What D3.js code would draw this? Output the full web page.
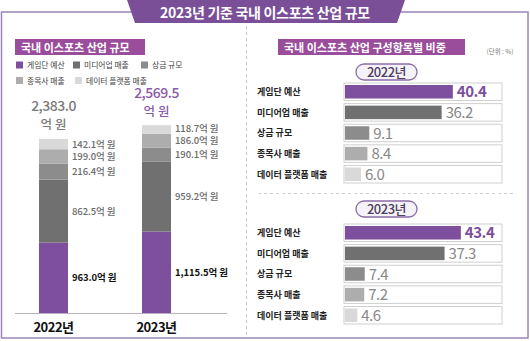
<!DOCTYPE html>
<html><head><meta charset="utf-8">
<script src="https://cdn.jsdelivr.net/npm/d3@7"></script>
<style>
html,body{margin:0;padding:0;background:#fff;}
svg{display:block;font-family:"Noto Sans CJK KR","Noto Sans",sans-serif;}
</style></head>
<body>
<svg id="c" width="530" height="341"></svg>
<script>
// ---- data ----
const title = "2023년 기준 국내 이스포츠 산업 규모";
const leftTitle = "국내 이스포츠 산업 규모";
const rightTitle = "국내 이스포츠 산업 구성항목별 비중";
const unitLabel = "(단위 : %)";
const years = ["2022년", "2023년"];
const categories = ["게임단 예산", "미디어업 매출", "상금 규모", "종목사 매출", "데이터 플랫폼 매출"];
const amount2022 = [963.0, 862.5, 216.4, 199.0, 142.1];
const amount2023 = [1115.5, 959.2, 190.1, 186.0, 118.7];
const totals = [2383.0, 2569.5];
const share2022 = [40.4, 36.2, 9.1, 8.4, 6.0];
const share2023 = [43.4, 37.3, 7.4, 7.2, 4.6];

const colors = ["#7d4f9c", "#707070", "#8c8c8c", "#adadad", "#d9d9d9"];
const purple = "#7d4f9c";

const svg = d3.select("#c");

// outer frame
svg.append("rect").attr("x", 1.5).attr("y", 12).attr("width", 526.5).attr("height", 326)
  .attr("fill", "none").attr("stroke", "#9c84b6").attr("stroke-width", 1.5);

// title banner
svg.append("path").attr("d", "M127,0 L405,0 L397,23 L135,23 Z").attr("fill", "#7a4f98");
svg.append("text").attr("x", 265).attr("y", 17.5).attr("text-anchor", "middle")
  .attr("fill", "#fff").attr("font-size", 14).attr("font-weight", 700).attr("letter-spacing", -0.3)
  .text(title);

// divider
svg.append("line").attr("x1", 246.5).attr("x2", 246.5).attr("y1", 26).attr("y2", 336)
  .attr("stroke", "#c8c8c8").attr("stroke-dasharray", "3,3");

// ---------------- left panel ----------------
svg.append("rect").attr("x", 15).attr("y", 39).attr("width", 130).attr("height", 16).attr("fill", "#9a4d9b");
svg.append("text").attr("x", 21).attr("y", 51.5).attr("fill", "#fff").attr("font-size", 11)
  .attr("font-weight", 700).text(leftTitle);

// legend
const legendPos = [[16, 65], [73, 65], [141, 65], [16, 80.5], [75, 80.5]];
const lg = svg.append("g").selectAll("g").data(categories).join("g")
  .attr("transform", (d, i) => `translate(${legendPos[i][0]},${legendPos[i][1]})`);
lg.append("rect").attr("x", 0).attr("y", -3.5).attr("width", 7).attr("height", 7).attr("fill", (d, i) => colors[i]);
lg.append("text").attr("x", 11).attr("y", 3).attr("font-size", 7.8).attr("fill", "#444").text(d => d);

// stacked bars
const yL = d3.scaleLinear().domain([0, 2600]).range([313, 123]);
const xL = d3.scalePoint().domain(years).range([53.5, 156.5]);
const barW = 29;
const amounts = [amount2022, amount2023];

years.forEach((yr, yi) => {
  const vals = amounts[yi];
  let cum = 0;
  const segs = vals.map((v, i) => { const s = { i, v, y0: cum, y1: cum + v }; cum += v; return s; });
  // label positions: segment midpoints, pushed apart from the top down
  const ly = segs.map(d => (yL(d.y0) + yL(d.y1)) / 2);
  for (let k = ly.length - 2; k >= 0; k--) {
    if (ly[k] - ly[k + 1] < 12.5) ly[k + 1] = ly[k] - 12.5;
  }
  const g = svg.append("g");
  g.selectAll("rect").data(segs).join("rect")
    .attr("x", xL(yr) - barW / 2).attr("width", barW)
    .attr("y", d => yL(d.y1)).attr("height", d => yL(d.y0) - yL(d.y1))
    .attr("fill", d => colors[d.i]);
  g.selectAll("text").data(segs).join("text")
    .attr("x", xL(yr) + barW / 2 + 4)
    .attr("y", d => ly[d.i] + 3.5)
    .attr("font-size", 9.5)
    .attr("font-weight", d => d.i === 0 ? 700 : 500)
    .attr("fill", d => d.i === 0 ? "#111" : "#6a6a6a")
    .attr("letter-spacing", -0.1)
    .text(d => d3.format(",.1f")(d.v) + "억 원");
  // total
  const tc = yi === 0 ? "#7a7a7a" : "#8a5aa8";
  const ty = yL(totals[yi]);
  svg.append("text").attr("x", xL(yr)).attr("y", ty - 27.5).attr("text-anchor", "middle")
    .attr("font-size", 14).attr("font-weight", 500).attr("fill", tc).attr("letter-spacing", -0.5)
    .text(d3.format(",.1f")(totals[yi]));
  svg.append("text").attr("x", xL(yr)).attr("y", ty - 9.5).attr("text-anchor", "middle")
    .attr("font-size", 12.5).attr("font-weight", 500).attr("fill", tc)
    .text("억 원");
  // year label
  svg.append("text").attr("x", xL(yr)).attr("y", 332).attr("text-anchor", "middle")
    .attr("font-size", 13).attr("font-weight", 700).attr("fill", "#111").attr("letter-spacing", -0.5)
    .text(yr);
});
svg.append("line").attr("x1", 15).attr("x2", 227).attr("y1", 313.5).attr("y2", 313.5)
  .attr("stroke", "#b9b0c4").attr("stroke-width", 1);

// ---------------- right panel ----------------
svg.append("rect").attr("x", 278).attr("y", 39).attr("width", 187).attr("height", 16).attr("fill", "#9a4d9b");
svg.append("text").attr("x", 284).attr("y", 51.5).attr("fill", "#fff").attr("font-size", 11)
  .attr("font-weight", 700).text(rightTitle);
svg.append("text").attr("x", 500).attr("y", 54).attr("text-anchor", "middle")
  .attr("font-size", 6.5).attr("fill", "#777").text(unitLabel);

svg.append("line").attr("x1", 258).attr("x2", 516).attr("y1", 193.5).attr("y2", 193.5)
  .attr("stroke", "#cfcfcf").attr("stroke-dasharray", "3,3");

const xR = d3.scaleLinear().domain([0, 59]).range([345, 502.5]);
const shares = [share2022, share2023];
const pillY = [72, 209];
const rowRange = [[83, 183], [224, 324]];

years.forEach((yr, yi) => {
  // pill
  svg.append("rect").attr("x", 356).attr("y", pillY[yi] - 8).attr("width", 61).attr("height", 16).attr("rx", 8)
    .attr("fill", "#f6f3f8").attr("stroke", "#8c6ca8").attr("stroke-width", 1.3);
  svg.append("text").attr("x", 386.5).attr("y", pillY[yi] + 4.8).attr("text-anchor", "middle")
    .attr("font-size", 13).attr("font-weight", 500).attr("fill", "#4e3f5e").attr("letter-spacing", -0.5)
    .text(yr);

  const yR = d3.scaleBand().domain(categories).range(rowRange[yi]).paddingInner(0.15);
  const rows = categories.map((c, i) => ({ c, i, v: shares[yi][i] }));
  const g = svg.append("g");
  const rg = g.selectAll("g").data(rows).join("g")
    .attr("transform", d => `translate(0,${yR(d.c)})`);
  const bh = yR.bandwidth();
  rg.append("rect").attr("x", 344).attr("y", 0).attr("width", 158).attr("height", bh)
    .attr("fill", "#fff").attr("stroke", "#cfcfcf").attr("stroke-width", 1);
  rg.append("rect").attr("x", xR(0)).attr("y", 2).attr("width", d => xR(d.v) - xR(0)).attr("height", bh - 4)
    .attr("fill", d => colors[d.i]);
  rg.append("text").attr("x", d => xR(d.v) + 4).attr("y", bh / 2 + 5.5)
    .attr("font-size", 15).attr("font-weight", d => d.i === 0 ? 700 : 400)
    .attr("fill", d => d.i === 0 ? purple : "#888").attr("letter-spacing", -0.5)
    .text(d => d3.format(".1f")(d.v));
  rg.append("text").attr("x", 257).attr("y", bh / 2 + 3.3)
    .attr("font-size", 9).attr("font-weight", 700).attr("fill", "#222")
    .text(d => d.c);
});
</script>
</body></html>
